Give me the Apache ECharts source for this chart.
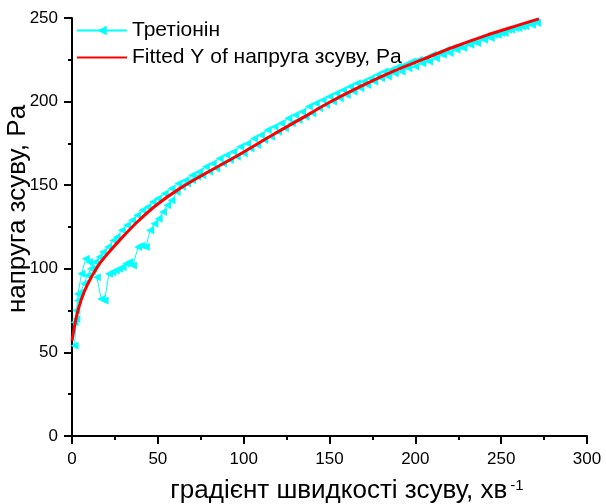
<!DOCTYPE html>
<html>
<head>
<meta charset="utf-8">
<script src="https://cdn.jsdelivr.net/npm/echarts@6/dist/echarts.min.js"></script>
<style>
html,body{margin:0;padding:0;background:#fff;}
#c{width:606px;height:504px;}
</style>
</head>
<body>
<div id="c"></div>
<script>
// ---- data ----
const seriesName1 = 'Третіонін';
const seriesName2 = 'Fitted Y of напруга зсуву, Pa';
const xAxisTitle = 'градієнт швидкості зсуву, хв';
const xAxisTitleSup = '-1';
const yAxisTitle = 'напруга зсуву, Pa';

// measured points (lower, noisy branch then upper branch back)
const tretioninX = [1.5,2.5,3.5,5.5,8,10,12.5,14.5,17,19,21.5,23.5,25.5,27.5,29.5,31.5,33.5,35.5,38.5,40.5,43,45.5,48,50.5,53,55.5,58,61,64,67,70,73,76,80,84,88,92,96,100,104,108,112,116,120,124,128,132,136,140,144,148,152,156,160,164,168,172,176,180,184,188,192,196,200,204,208,212,216,220,224,228,232,236,240,244,248,252,256,260,264,268,271,
  270,266,262,258,254,250,246,242,238,234,230,226,222,218,214,210,206,202,198,194,190,186,182,178,174,170,166,162,158,154,150,146,142,138,134,130,126,122,118,114,110,106,102,98,94,90,86,82,78,74,70,66,62,58,54,50,47,44,41,38,35,32,29,26,24,21,18,16,13.5,11,9,7,5,3.5,2.5,1.5];
const tretioninY = [54,70,85,97,106,104,100,95,82,81,97,98,99,100,101,103,104,102,113,114,113,123,127,130,134,138,141,146,149,151,153,155,156,158,160,163,165,167,169,172,174,177,179,182,184,187,189,191,193,196,198,200,202,204,206,208,210,212,214,215,217,218,220,221,223,224,226,228,229,231,232,234,235,237,238,240,241,243,244,245,246,247,
  248,247,245,244,243,241,240,239,238,236,235,233,232,231,229,228,226,225,224,222,221,219,218,216,214,212,211,209,207,205,203,201,199,197,194,192,190,187,185,183,180,178,175,173,170,168,166,163,161,158,156,153,151,148,145,142,140,137,135,132,129,126,123,119,117,113,110,107,104,100,96,91,86,81,75,68];

// fitted curve
const fittedX = [0,1,2,4,7,11,16,22,29,38,49,62,76,96,115,133,149,169,188,205,222,241,261,272];
const fittedY = [57,63,68.5,77,86,94.5,103,110.5,118.5,128,138,147.5,156,167.5,179,189.5,199,209.5,218.5,225.5,232.5,239.5,246,249.5];

const xMin = 0, xMax = 300, xStep = 50;
const yMin = 0, yMax = 250, yStep = 50;

// ---- chart ----
const pts1 = tretioninX.map((x,i)=>[x,tretioninY[i]]);
const pts2 = fittedX.map((x,i)=>[x,fittedY[i]]);
const chart = echarts.init(document.getElementById('c'), null, {renderer:'canvas'});
const FONT = 'Liberation Sans, Arial, sans-serif';
function axisCommon(margin){
  return {
    axisLine:{show:true,onZero:false,lineStyle:{color:'#000',width:2}},
    axisTick:{show:true,inside:false,length:8,lineStyle:{color:'#000',width:2}},
    minorTick:{show:true,splitNumber:2,length:4,lineStyle:{color:'#000',width:2}},
    splitLine:{show:false},
    axisLabel:{color:'#000',fontSize:17,fontFamily:FONT,margin:margin}
  };
}
chart.setOption({
  animation:false,
  backgroundColor:'#fff',
  grid:{left:72,right:19,top:18,bottom:68,containLabel:false},
  legend:{
    orient:'vertical',left:76,top:20,padding:0,itemWidth:50,itemHeight:12,itemGap:6,
    textStyle:{fontSize:21,fontFamily:FONT,color:'#000'},
    data:[{name:seriesName1},{name:seriesName2,itemStyle:{opacity:0}}]
  },
  xAxis:Object.assign({type:'value',min:xMin,max:xMax,interval:xStep},axisCommon(15)),
  yAxis:Object.assign({type:'value',min:yMin,max:yMax,interval:yStep},axisCommon(14)),
  graphic:[
    {type:'text',x:347,y:491,style:{
      text:'{a|'+xAxisTitle+'}{b|'+xAxisTitleSup+'}',
      align:'center',verticalAlign:'middle',
      rich:{a:{fontSize:26,fontFamily:FONT,fill:'#000'},
            b:{fontSize:15,fontFamily:FONT,fill:'#000',verticalAlign:'top',padding:[0,0,0,3]}}
    }},
    {type:'text',x:18,y:209,rotation:Math.PI/2,style:{
      text:yAxisTitle,fontSize:26,fontFamily:FONT,fill:'#000',align:'center',verticalAlign:'middle'
    }}
  ],
  series:[
    {name:seriesName1,type:'line',data:pts1,symbol:'triangle',symbolRotate:90,symbolSize:8,
     showSymbol:true,itemStyle:{color:'#00ffff'},lineStyle:{color:'#00ffff',width:1},z:2},
    {name:seriesName2,type:'line',data:pts2,smooth:0.3,symbol:'none',showSymbol:false,
     itemStyle:{color:'#ff0000'},lineStyle:{color:'#ff0000',width:3},z:3}
  ]
});
</script>
</body>
</html>
